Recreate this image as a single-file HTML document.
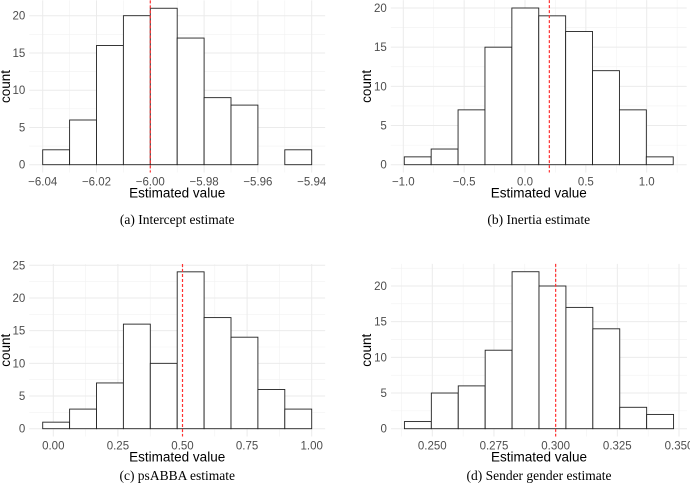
<!DOCTYPE html>
<html><head><meta charset="utf-8">
<style>
html,body{margin:0;padding:0;background:#fff;}
svg{display:block;}
.tick{font-family:"Liberation Sans",sans-serif;font-size:11.5px;fill:#4d4d4d;}
.atitle{font-family:"Liberation Sans",sans-serif;font-size:13.5px;fill:#000;}
.cap{font-family:"Liberation Serif",serif;font-size:13.5px;fill:#000;}
</style></head>
<body>
<svg id="fig" width="690" height="492" viewBox="0 0 690 492" xmlns="http://www.w3.org/2000/svg"></svg>
<script>
// Panel (a) Intercept
const countsA = [2,6,16,20,21,17,9,8,0,2];
const ticksA = [-6.04,-6.02,-6.00,-5.98,-5.96,-5.94];
const tickLabelsA = ["\u22126.04","\u22126.02","\u22126.00","\u22125.98","\u22125.96","\u22125.94"];
const binStartA = -6.04, binWidthA = 0.01, trueA = -6.00;
// Panel (b) Inertia
const countsB = [1,2,7,15,20,19,17,12,7,1];
const ticksB = [-1.0,-0.5,0.0,0.5,1.0];
const tickLabelsB = ["\u22121.0","\u22120.5","0.0","0.5","1.0"];
const binStartB = -0.992, binWidthB = 0.221, trueB = 0.2;
// Panel (c) psABBA
const countsC = [1,3,7,16,10,24,17,14,6,3];
const ticksC = [0,0.25,0.5,0.75,1.0];
const tickLabelsC = ["0.00","0.25","0.50","0.75","1.00"];
const binStartC = -0.041, binWidthC = 0.1041, trueC = 0.5;
// Panel (d) Sender gender
const countsD = [1,5,6,11,22,20,17,14,3,2];
const ticksD = [0.25,0.275,0.3,0.325,0.35];
const tickLabelsD = ["0.250","0.275","0.300","0.325","0.350"];
const binStartD = 0.2387, binWidthD = 0.01091, trueD = 0.3;
const yTicksA = [0,5,10,15,20], yTicksB = [0,5,10,15,20], yTicksC = [0,5,10,15,20,25], yTicksD = [0,5,10,15,20];

const NS = "http://www.w3.org/2000/svg";
const svg = document.getElementById('fig');
function mk(tag, attrs, parent){
  const e = document.createElementNS(NS, tag);
  for (const k in attrs) e.setAttribute(k, attrs[k]);
  (parent||svg).appendChild(e);
  return e;
}

function panel(key, cfg, counts, ticks, tickLabels, yTicks, binStart, binWidth, trueVal, caption){
  const g = mk('g', {});
  
  
  const xs = v => cfg.x0p + (v - cfg.x0v) * (cfg.x1p - cfg.x0p) / (cfg.x1v - cfg.x0v);
  const ys = v => cfg.y0p + v * (cfg.y1p - cfg.y0p) / cfg.y1v;
  const xmin = binStart, xmax = binStart + counts.length * binWidth;
  const ext = (xmax - xmin) * 0.05;
  const ymax = Math.max(...counts), yext = ymax * 0.05;
  const L = xs(xmin - ext), R = xs(xmax + ext), T = ys(ymax + yext), B = ys(-yext);
  const step = ticks[1] - ticks[0];
  for (let v = ticks[0] - step/2; v <= ticks[ticks.length-1] + step; v += step) {
    const x = xs(v); if (x < L || x > R) continue;
    const l = mk('line', {x1:x, x2:x, y1:T, y2:B, stroke:'#f2f2f2', 'stroke-width':0.6}, g);
     
  }
  const ystep = yTicks[1] - yTicks[0];
  for (let v = yTicks[0] + ystep/2; v <= ymax + yext; v += ystep) {
    const y = ys(v);
    const l = mk('line', {x1:L, x2:R, y1:y, y2:y, stroke:'#f2f2f2', 'stroke-width':0.6}, g);
     
  }
  ticks.forEach((v, i) => {
    const x = xs(v);
    const l = mk('line', {x1:x, x2:x, y1:T, y2:B, stroke:'#ebebeb', 'stroke-width':1}, g);
     
    const t = mk('text', {x:x, y:cfg.y0p + 21, 'text-anchor':'middle', class:'tick'}, g);
    t.textContent = tickLabels[i];
     
  });
  yTicks.forEach(v => {
    const y = ys(v);
    const l = mk('line', {x1:L, x2:R, y1:y, y2:y, stroke:'#ebebeb', 'stroke-width':1}, g);
     
    const t = mk('text', {x:L - 4, y:y + 4, 'text-anchor':'end', class:'tick'}, g);
    t.textContent = String(v);
     
  });
  counts.forEach((c, i) => {
    const x1 = xs(binStart + i * binWidth), x2 = xs(binStart + (i+1) * binWidth);
    const r = mk('rect', {x:x1, y:ys(c), width:x2 - x1, height:ys(0) - ys(c), fill:'#fff', stroke:'#222', 'stroke-width':0.9}, g);
     
  });
  const tx = xs(trueVal);
  const rl = mk('line', {x1:tx, x2:tx, y1:T, y2:B, stroke:'#ff3030', 'stroke-width':1.2, 'stroke-dasharray':'3,2'}, g);
   
  const cx = (L + R) / 2;
  const xt = mk('text', {x:cx, y:cfg.y0p + 33, 'text-anchor':'middle', class:'atitle'}, g);
  xt.textContent = 'Estimated value';
   
  const cy = (T + B) / 2;
  const yt = mk('text', {x:cfg.ylx, y:cy, 'text-anchor':'middle', class:'atitle', transform:`rotate(-90 ${cfg.ylx} ${cy})`}, g);
  yt.textContent = 'count';
   
  const cp = mk('text', {x:cx, y:cfg.capy, 'text-anchor':'middle', class:'cap'}, g);
  cp.textContent = caption;
   
}

panel('a', {x0v:-6.04, x1v:-5.94, x0p:42.7, x1p:311.7, y0p:164.7, y1p:15.7, y1v:20, ylx:10, capy:224},
  countsA, ticksA, tickLabelsA, yTicksA, binStartA, binWidthA, trueA, '(a) Intercept estimate');
panel('b', {x0v:-1, x1v:1, x0p:403.3, x1p:646.7, y0p:164.7, y1p:8, y1v:20, ylx:371, capy:224},
  countsB, ticksB, tickLabelsB, yTicksB, binStartB, binWidthB, trueB, '(b) Inertia estimate');
panel('c', {x0v:0, x1v:1, x0p:53.3, x1p:311.7, y0p:428.7, y1p:265.3, y1v:25, ylx:10, capy:480},
  countsC, ticksC, tickLabelsC, yTicksC, binStartC, binWidthC, trueC, '(c) psABBA estimate');
panel('d', {x0v:0.25, x1v:0.35, x0p:432.3, x1p:679, y0p:428.7, y1p:286, y1v:20, ylx:371, capy:480},
  countsD, ticksD, tickLabelsD, yTicksD, binStartD, binWidthD, trueD, '(d) Sender gender estimate');
</script>
</body></html>
